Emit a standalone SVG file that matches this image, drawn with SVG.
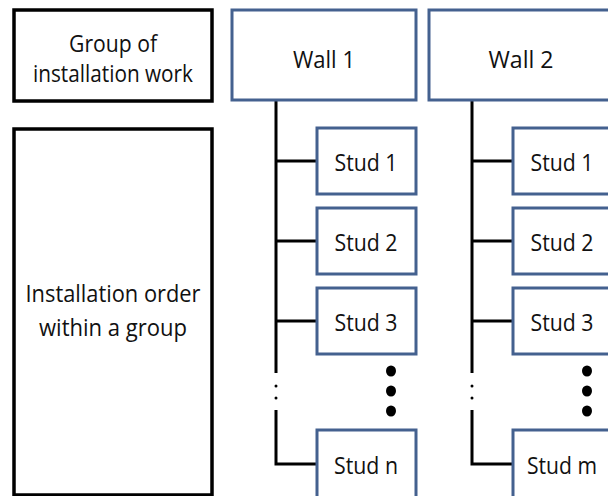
<svg xmlns="http://www.w3.org/2000/svg" width="608" height="496" viewBox="0 0 608 496">
  <style>
    .legend { fill: #ffffff; stroke: #000000; stroke-width: 3.5; }
    .box { fill: #ffffff; stroke: #44618f; stroke-width: 3; }
    .wire { fill: none; stroke: #000000; stroke-width: 3; }
    .lbl { font-family: "Open Sans", "Liberation Sans", sans-serif; font-size: 23px; fill: #111111; text-anchor: middle; }
    .dot { fill: #000000; }
  </style>
  <rect width="608" height="496" fill="#ffffff"/>

  <!-- legend column -->
  <g id="legend-group">
    <rect class="legend" x="14" y="10" width="198" height="91"/>
    <text class="lbl" x="113" y="52" textLength="88" lengthAdjust="spacingAndGlyphs">Group of</text>
    <text class="lbl" x="113" y="82" textLength="160" lengthAdjust="spacingAndGlyphs">installation work</text>
  </g>
  <g id="legend-order">
    <rect class="legend" x="14" y="129" width="198" height="366"/>
    <text class="lbl" x="113" y="302" textLength="175" lengthAdjust="spacingAndGlyphs">Installation order</text>
    <text class="lbl" x="113" y="336" textLength="148" lengthAdjust="spacingAndGlyphs">within a group</text>
  </g>

  <!-- connectors -->
  <g id="connectors">
    <path class="wire" d="M276 101 V373 M276 410 V464 H317 M276 161 H317 M276 241 H317 M276 321 H317"/>
    <path class="wire" d="M472 101 V373 M472 410 V464 H513 M472 161 H513 M472 241 H513 M472 321 H513"/>
    <circle class="dot" cx="276" cy="386" r="1.5"/>
    <circle class="dot" cx="276" cy="398" r="1.5"/>
    <circle class="dot" cx="472" cy="386" r="1.5"/>
    <circle class="dot" cx="472" cy="398" r="1.5"/>
  </g>

  <!-- wall 1 -->
  <g id="wall1">
    <rect class="box" x="232" y="10" width="184" height="90"/>
    <text class="lbl" x="324" y="68" textLength="62" lengthAdjust="spacingAndGlyphs">Wall 1</text>
  </g>
  <g id="wall1-stud1">
    <rect class="box" x="317" y="128" width="99" height="66"/>
    <text class="lbl" x="366" y="171" textLength="63" lengthAdjust="spacingAndGlyphs">Stud 1</text>
  </g>
  <g id="wall1-stud2">
    <rect class="box" x="317" y="208" width="99" height="66"/>
    <text class="lbl" x="366" y="251" textLength="63" lengthAdjust="spacingAndGlyphs">Stud 2</text>
  </g>
  <g id="wall1-stud3">
    <rect class="box" x="317" y="288" width="99" height="66"/>
    <text class="lbl" x="366" y="331" textLength="63" lengthAdjust="spacingAndGlyphs">Stud 3</text>
  </g>
  <g id="wall1-ellipsis">
    <ellipse class="dot" cx="391" cy="371" rx="5" ry="5.5"/>
    <ellipse class="dot" cx="391" cy="391" rx="5" ry="5.5"/>
    <ellipse class="dot" cx="391" cy="411" rx="5" ry="5.5"/>
  </g>
  <g id="wall1-studn">
    <rect class="box" x="317" y="430" width="99" height="72"/>
    <text class="lbl" x="366" y="474" textLength="64" lengthAdjust="spacingAndGlyphs">Stud n</text>
  </g>

  <!-- wall 2 -->
  <g id="wall2">
    <rect class="box" x="429" y="10" width="186" height="90"/>
    <text class="lbl" x="521" y="68" textLength="65" lengthAdjust="spacingAndGlyphs">Wall 2</text>
  </g>
  <g id="wall2-stud1">
    <rect class="box" x="513" y="128" width="99" height="66"/>
    <text class="lbl" x="562" y="171" textLength="63" lengthAdjust="spacingAndGlyphs">Stud 1</text>
  </g>
  <g id="wall2-stud2">
    <rect class="box" x="513" y="208" width="99" height="66"/>
    <text class="lbl" x="562" y="251" textLength="63" lengthAdjust="spacingAndGlyphs">Stud 2</text>
  </g>
  <g id="wall2-stud3">
    <rect class="box" x="513" y="288" width="99" height="66"/>
    <text class="lbl" x="562" y="331" textLength="63" lengthAdjust="spacingAndGlyphs">Stud 3</text>
  </g>
  <g id="wall2-ellipsis">
    <ellipse class="dot" cx="587" cy="371" rx="5" ry="5.5"/>
    <ellipse class="dot" cx="587" cy="391" rx="5" ry="5.5"/>
    <ellipse class="dot" cx="587" cy="411" rx="5" ry="5.5"/>
  </g>
  <g id="wall2-studm">
    <rect class="box" x="513" y="430" width="99" height="72"/>
    <text class="lbl" x="562" y="474" textLength="70" lengthAdjust="spacingAndGlyphs">Stud m</text>
  </g>
</svg>
